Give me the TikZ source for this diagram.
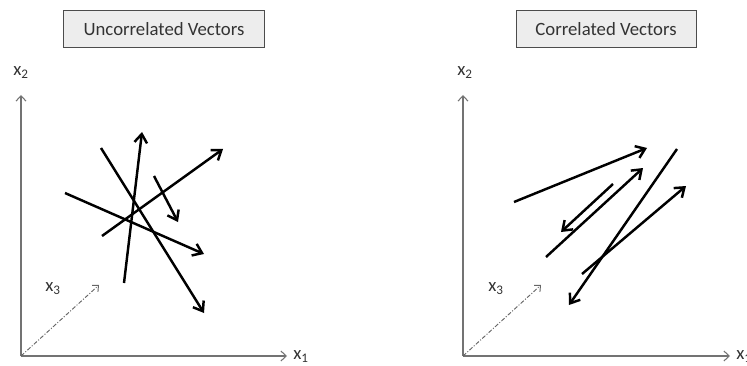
\documentclass[tikz,border=0pt]{standalone}
\usepackage{fontspec}
\setmainfont{Carlito}
\usepackage{xcolor}
\usetikzlibrary{arrows.meta,positioning}

\begin{document}
\begin{tikzpicture}[x=0.03cm,y=-0.03cm,
  every node/.style={font=\fontsize{16}{18}\selectfont,text=black!80},
  ttl/.style={draw=black!70,fill=black!7,line width=0.8pt,minimum height=1.1cm,inner sep=0pt},
  ax/.style={draw=black!55,line width=0.9pt,-{Straight Barb[length=1.6mm,width=3mm]}},
  depth/.style={draw=black!60,line width=0.8pt,dash pattern=on 3.5pt off 1.5pt on 0.9pt off 1.5pt,-{Straight Barb[length=1.4mm,width=2.6mm]}},
  vec/.style={line width=2.1pt,-{Straight Barb[length=2.6mm,width=3.8mm]}}]
\useasboundingbox (0,0) rectangle (747,366);
% titles
\node[ttl,minimum width=6.03cm] (tu) at (164,29) {Uncorrelated Vectors};
\node[ttl,minimum width=5.4cm] (tc) at (606,29) {Correlated Vectors};
% left axes
\coordinate (o1) at (21,356);
\coordinate (y1) at (21,95);
\coordinate (x1) at (287,356);
\coordinate (z1) at (99,285);
\node (lx1) at (301,357) {x\textsubscript{1}};
\node (lx2) at (21,73) {x\textsubscript{2}};
\node (lx3) at (53,289) {x\textsubscript{3}};
\draw[ax] (o1)--(y1);
\draw[ax] (o1)--(x1);
\draw[depth] (o1)--(z1);
% right axes
\coordinate (o2) at (463,356);
\coordinate (y2) at (463,95);
\coordinate (x2) at (730,356);
\coordinate (z2) at (541,285);
\node (rx1) at (744,357) {x\textsubscript{1}};
\node (rx2) at (465,73) {x\textsubscript{2}};
\node (rx3) at (496,289) {x\textsubscript{3}};
\draw[ax] (o2)--(y2);
\draw[ax] (o2)--(x2);
\draw[depth] (o2)--(z2);
% uncorrelated
\coordinate (ua) at (124,283); \coordinate (ub) at (142,132);
\coordinate (uc) at (101,148); \coordinate (ud) at (204,313);
\coordinate (ue) at (102,236); \coordinate (uf) at (223,149);
\coordinate (ug) at (65,193);  \coordinate (uh) at (204,254);
\coordinate (ui) at (154,176); \coordinate (uj) at (178,222);
\draw[vec] (ua)--(ub);
\draw[vec] (uc)--(ud);
\draw[vec] (ue)--(uf);
\draw[vec] (ug)--(uh);
\draw[vec] (ui)--(uj);
% correlated
\coordinate (ca) at (514,202); \coordinate (cb) at (647,148);
\coordinate (cc) at (546,257); \coordinate (cd) at (643,168);
\coordinate (ce) at (613,184); \coordinate (cf) at (561,232);
\coordinate (cg) at (677,149); \coordinate (ch) at (569,305);
\coordinate (ci) at (582,274); \coordinate (cj) at (686,186);
\draw[vec] (ca)--(cb);
\draw[vec] (cc)--(cd);
\draw[vec] (ce)--(cf);
\draw[vec] (cg)--(ch);
\draw[vec] (ci)--(cj);
\end{tikzpicture}
\end{document}
